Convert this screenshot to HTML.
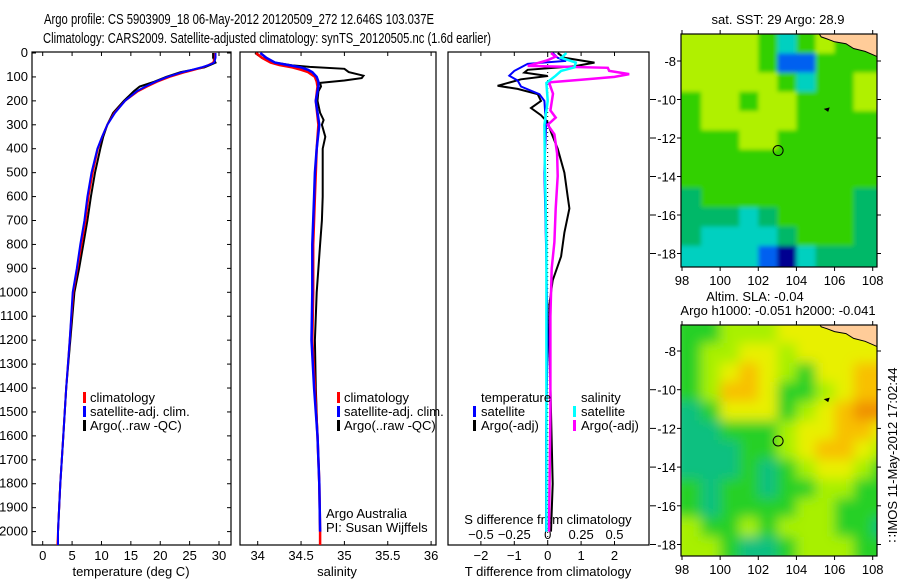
<!DOCTYPE html>
<html><head><meta charset="utf-8"><style>
body{margin:0;background:#fff}
svg{display:block;font-family:"Liberation Sans",sans-serif}
text{fill:#000}
</style></head><body>
<svg id="s" width="900" height="580" xmlns="http://www.w3.org/2000/svg">
<defs>
<clipPath id="c1"><rect x="32" y="52" width="199" height="493"/></clipPath>
<clipPath id="c2"><rect x="240" y="52" width="196" height="493"/></clipPath>
<clipPath id="c3"><rect x="448" y="52" width="201" height="493"/></clipPath>
<clipPath id="m1"><rect x="681" y="34" width="196" height="233"/></clipPath>
<clipPath id="m2"><rect x="681" y="325" width="196" height="231"/></clipPath>
<filter id="b1" x="-5%" y="-5%" width="110%" height="110%"><feGaussianBlur stdDeviation="2"/></filter>
<filter id="b2" x="-5%" y="-5%" width="110%" height="110%"><feGaussianBlur stdDeviation="6"/></filter>
</defs>
<text x="44" y="24" font-size="15" textLength="390" lengthAdjust="spacingAndGlyphs">Argo profile: CS 5903909_18 06-May-2012 20120509_272 12.646S 103.037E</text>
<text x="43" y="43" font-size="15" textLength="448" lengthAdjust="spacingAndGlyphs">Climatology: CARS2009. Satellite-adjusted climatology: synTS_20120505.nc (1.6d earlier)</text>
<g id="g"></g>
</svg>
<script>
// ---------- data ----------
const depthTemp = [0,20,40,50,60,70,80,100,120,140,160,200,250,300,350,400,500,600,700,800,900,1000,1200,1400,1600,1800,2000,2056];
const tempClim = [29.3,29.3,29.0,28.2,27.2,25.8,24.3,21.6,19.5,17.8,16.2,14.0,12.2,11.0,10.1,9.4,8.5,7.8,7.3,6.6,5.9,5.2,4.6,4.0,3.5,3.0,2.6,2.5];
const tempSat  = [29.4,29.4,29.2,28.3,27.0,25.4,23.8,21.2,19.2,17.5,16.0,14.0,12.3,11.0,10.1,9.3,8.3,7.6,7.1,6.4,5.8,5.1,4.6,4.0,3.5,3.0,2.6,2.6];
const depthArgoT = [0,20,40,50,60,70,80,100,120,140,160,200,250,300,350,400,500,600,700,800,900,1000,1200,1400,1600,1800,2000];
const tempArgo = [29.0,29.0,29.4,28.5,27.5,25.5,23.5,21.0,19.0,16.5,15.5,13.8,12.0,11.0,10.3,9.8,8.9,8.2,7.6,6.9,6.2,5.4,4.7,4.0,3.5,3.0,2.6];

const depthSal = [0,20,40,50,60,70,80,100,120,140,200,300,400,500,600,800,1000,1200,1400,1600,1800,2000,2056];
const salClim = [33.98,34.05,34.15,34.25,34.4,34.5,34.58,34.66,34.68,34.69,34.67,34.70,34.68,34.67,34.66,34.64,34.64,34.63,34.66,34.69,34.71,34.72,34.72];
const salSat  = [34.03,34.1,34.2,34.35,34.5,34.58,34.63,34.68,34.7,34.7,34.67,34.71,34.68,34.66,34.65,34.63,34.63,34.62,34.65,34.69,34.71,34.72,34.72];
const depthArgoS = [0,20,40,52,58,66,80,95,105,115,125,140,160,200,250,280,300,350,400,500,600,700,800,900,1000,1200,1400,1600,1800,2000];
const salArgo = [33.97,34.05,34.2,34.4,34.6,35.0,35.05,35.22,35.2,35.0,34.72,34.73,34.70,34.69,34.72,34.76,34.74,34.78,34.75,34.75,34.75,34.74,34.72,34.70,34.68,34.66,34.67,34.69,34.71,34.72];

const depthDiffTArgo = [0,20,40,55,70,82,96,110,137,150,172,200,230,260,290,330,400,500,600,650,750,850,950,1050,1200,1500,1800,2000];
const diffTArgo = [0.3,0.5,1.4,0.8,-0.6,-0.7,0.0,-0.8,-1.5,-0.9,-0.3,-0.2,-0.5,-0.2,0.0,0.1,0.3,0.5,0.6,0.65,0.5,0.4,0.15,0.05,0.05,0.1,0.15,0.1];
const depthDiffTSat = [0,20,33,45,60,75,95,115,140,172,200,300,500,800,1200,1600,2000];
const diffTSat = [0.15,0.3,0.55,-0.6,-0.8,-1.0,-1.15,-0.9,-0.8,-0.25,-0.1,-0.05,-0.1,-0.05,0.0,-0.05,-0.05];
const depthDiffSArgo = [0,15,30,54,62,75,88,100,112,123,170,240,270,300,340,420,514,650,790,900,1100,1500,2000];
const diffSArgo = [0.025,0.06,0.0,-0.15,0.45,0.46,0.61,0.5,0.25,0.01,0.04,0.02,0.06,0.0,0.05,0.07,0.075,0.06,0.05,0.03,0.02,0.02,0.01];
const depthDiffSSat = [0,20,40,60,75,95,125,200,300,500,800,1200,1600,2000];
const diffSSat = [0.14,0.1,0.21,0.2,0.1,0.06,-0.01,0.0,-0.025,-0.02,-0.01,-0.01,-0.01,-0.01];

const depthTicks = [0,100,200,300,400,500,600,700,800,900,1000,1100,1200,1300,1400,1500,1600,1700,1800,1900,2000];
const tempTicks = [0,5,10,15,20,25,30];
const salTicks = [34,34.5,35,35.5,36];
const salTickLabels = ["34","34.5","35","35.5","36"];
const tdiffTicks = [-2,-1,0,1,2];
const sdiffTicks = [-0.5,-0.25,0,0.25,0.5];
const sdiffTickLabels = ["\u22120.5","\u22120.25","0","0.25","0.5"];
const lonTicks = [98,100,102,104,106,108];
const latTicks = [-8,-10,-12,-14,-16,-18];

// map grids (1 degree cells, rows from lat -6.6 southward, cols from lon 98)
const sstRows = ["YYYYGCGYGGG","YYYYGBBGGGG","YYYYYGCGGYY","GYYGYYGGGYY","GYYYYYGGGGG","GGGYYGGGGGG","GGGGGGGGGGG","GGGGGGGGGGG","gGGGGGGGGgg","gggCgGGGGgg","gCCCCgGGGgg","CCCCBNCgggg"];
const sstColors = {Y:"#b0f000",G:"#30d000",g:"#00b868",C:"#00d0c0",B:"#0060f0",N:"#000090"};
const slaRows = ["GGLLLYYYYYY","GLLYYLYYYYY","GLYOYLGYYOO","GLOOYGGLYOO","TGYYYGLYODD","TTGGGLYYOOY","TTTGGLYOOYL","TTTGTGLYYLG","GTGGTGGLLGG","GTGGGGLLGGG","LGGLGLLLGGT","LLGTTGLLLGG"];
const slaColors = {G:"#28d028",T:"#10c080",L:"#a8f000",Y:"#e8f000",O:"#f8c000",D:"#f09000"};
const coastLon = [105.2,105.3,105.6,106.0,106.6,107.0,107.6,108.3];
const coastLat = [-6.6,-6.75,-6.85,-7.0,-7.1,-7.35,-7.5,-7.8];
const argoPos = [103.04,-12.65];
const markPos = [105.6,-10.5];

// ---------- scales ----------
const yD = d => 53 + d*0.2393;
const xT = t => 42.7 + t*5.877;
const xS = s => 257.7 + (s-34)*86.7;
const xDT = t => 547.7 + t*33.4;
const xDS = s => 547.7 + s*4*33.4;
const xLon = l => 682 + (l-98)*19.07;
const yLat1 = l => 61 + (-8-l)*19.25;
const yLat2 = l => 351 + (-8-l)*19.35;

const NS="http://www.w3.org/2000/svg";
const G=document.getElementById('g');
function mk(tag, attrs, parent){const e=document.createElementNS(NS,tag);for(const k in attrs)e.setAttribute(k,attrs[k]);(parent||G).appendChild(e);return e;}
function txt(x,y,s,size,anchor,parent){const e=mk('text',{x:x,y:y,'font-size':size||13,'text-anchor':anchor||'start'},parent);e.textContent=s;return e;}
function line(vals,depths,xf,color,w,clip,name){
  const pts=vals.map((v,i)=>xf(v).toFixed(1)+','+yD(depths[i]).toFixed(1)).join(' ');
  const e=mk('polyline',{points:pts,fill:'none',stroke:color,'stroke-width':w,'clip-path':'url(#'+clip+')','stroke-linejoin':'miter'});
  
  
  return e;
}
function panel(x0,w,name){
  const e=mk('rect',{x:x0,y:52,width:w,height:493,fill:'none',stroke:'#000','stroke-width':1.2});
  
  
}
function legMark(x,y,c){mk('rect',{x:x,y:y-10,width:3,height:11,fill:c});}

// ---------- panel 1: temperature ----------
panel(32,199,'temperature-panel');
depthTicks.forEach(d=>{
  const t=txt(28,yD(d)+4,String(d),13,'end');
  
  
  mk('line',{x1:32,x2:36,y1:yD(d),y2:yD(d),stroke:'#000'});
  mk('line',{x1:227,x2:231,y1:yD(d),y2:yD(d),stroke:'#000'});
});
tempTicks.forEach(t=>{
  const x=xT(t);
  mk('line',{x1:x,x2:x,y1:52,y2:56,stroke:'#000'});
  mk('line',{x1:x,x2:x,y1:541,y2:545,stroke:'#000'});
  const e=txt(x,560,String(t),13,'middle');
  
  
});
txt(131,576,'temperature (deg C)',13,'middle');
line(tempArgo,depthArgoT,xT,'#000',2,'c1','argo-temperature-line');
line(tempClim,depthTemp,xT,'#f00',2,'c1','climatology-temperature-line');
line(tempSat,depthTemp,xT,'#00f',2,'c1','satellite-temperature-line');
[['climatology','#f00'],['satellite-adj. clim.','#00f'],['Argo(..raw -QC)','#000']].forEach((l,i)=>{
  const y=402+i*14; legMark(83,y,l[1]);
  const e=txt(90,y,l[0],13);
  
  
});

// ---------- panel 2: salinity ----------
panel(240,196,'salinity-panel');
salTicks.forEach((s,i)=>{
  const x=xS(s);
  mk('line',{x1:x,x2:x,y1:52,y2:56,stroke:'#000'});
  mk('line',{x1:x,x2:x,y1:541,y2:545,stroke:'#000'});
  const e=txt(x,560,salTickLabels[i],13,'middle');
  
  
});
txt(337,576,'salinity',13,'middle');
line(salArgo,depthArgoS,xS,'#000',2,'c2','argo-salinity-line');
line(salClim,depthSal,xS,'#f00',2.5,'c2','climatology-salinity-line');
line(salSat,depthSal.slice(0,22),xS,'#00f',2.5,'c2','satellite-salinity-line');
[['climatology','#f00'],['satellite-adj. clim.','#00f'],['Argo(..raw -QC)','#000']].forEach((l,i)=>{
  const y=402+i*14; legMark(337,y,l[1]);
  const e=txt(344,y,l[0],13);
  
  
});
txt(326,518,'Argo Australia',13);
txt(326,532,'PI: Susan Wijffels',13);

// ---------- panel 3: differences ----------
panel(448,201,'difference-panel');
mk('line',{x1:xDT(0),x2:xDT(0),y1:52,y2:545,stroke:'#000','stroke-dasharray':'1,3'});
tdiffTicks.forEach(t=>{
  const x=xDT(t);
  mk('line',{x1:x,x2:x,y1:541,y2:545,stroke:'#000'});
  const e=txt(x,560,t<0?'\u2212'+(-t):String(t),13,'middle');
  
  
});
sdiffTicks.forEach((s,i)=>{
  const x=xDS(s);
  mk('line',{x1:x,x2:x,y1:52,y2:56,stroke:'#000'});
  const e=txt(x,539,sdiffTickLabels[i],13,'middle');
  
  
});
txt(548,524,'S difference from climatology',13,'middle');
txt(548,576,'T difference from climatology',13,'middle');
line(diffTArgo,depthDiffTArgo,xDT,'#000',2,'c3','argo-tdiff-line');
line(diffTSat,depthDiffTSat,xDT,'#00f',2,'c3','satellite-tdiff-line');
line(diffSArgo,depthDiffSArgo,xDS,'#f0f',2.5,'c3','argo-sdiff-line');
line(diffSSat,depthDiffSSat,xDS,'#0ff',2.5,'c3','satellite-sdiff-line');
txt(481,402,'temperature',13);
txt(581,402,'salinity',13);
[['satellite','#00f',473],['Argo(-adj)','#000',473],].forEach((l,i)=>{const y=416+i*14;legMark(l[2],y,l[1]);const e=txt(481,y,l[0],13);});
[['satellite','#0ff'],['Argo(-adj)','#f0f']].forEach((l,i)=>{const y=416+i*14;legMark(573,y,l[1]);const e=txt(581,y,l[0],13);});
latTicks.slice(1).forEach(l=>{
  mk('line',{x1:650,x2:656,y1:yLat1(l),y2:yLat1(l),stroke:'#000'});
  mk('line',{x1:650,x2:656,y1:yLat2(l),y2:yLat2(l),stroke:'#000'});
});

// ---------- maps ----------
function drawMap(rows,colors,yLat,clip,filt,top,bot,name){
  const g=mk('g',{'clip-path':'url(#'+clip+')'});
  
  
  const inner=mk('g',{filter:'url(#'+filt+')'},g);
  rows.forEach((row,r)=>{
    for(let c=0;c<row.length;c++){
      const lat0=-6.6-r, lat1=-7.6-r;
      let y0=yLat(lat0), y1=yLat(lat1);
      if(r===0) y0-=10; if(r===rows.length-1) y1+=10;
      let x0=xLon(98+c), x1=xLon(99+c);
      if(c===0) x0-=10; if(c===row.length-1) x1+=10;
      const cell=mk('rect',{x:x0,y:y0,width:x1-x0+0.5,height:y1-y0+0.5,fill:colors[row[c]]},inner);
      
      
    }
  });
  let pts=coastLon.map((l,i)=>xLon(l).toFixed(1)+','+yLat(coastLat[i]).toFixed(1));
  pts.push(xLon(108.3)+','+(top-5)); pts.push(xLon(105.2)+','+(top-5));
  const land=mk('polygon',{points:pts.join(' '),fill:'#ffcc99',stroke:'#000','stroke-width':1},g);
  
  
  const circ=mk('circle',{cx:xLon(argoPos[0]),cy:yLat(argoPos[1]),r:5,fill:'none',stroke:'#000','stroke-width':1},g);
  
  
  mk('path',{d:'M'+(xLon(markPos[0])-2)+' '+yLat(markPos[1])+' l4 -1 l-1 3 z',fill:'#000',stroke:'#000'},g);
  mk('rect',{x:681,y:top,width:196,height:bot-top,fill:'none',stroke:'#000','stroke-width':1.2});
  lonTicks.forEach(l=>{
    const x=xLon(l);
    mk('line',{x1:x,x2:x,y1:top-4,y2:top,stroke:'#000'});
    mk('line',{x1:x,x2:x,y1:bot,y2:bot+4,stroke:'#000'});
    const e=txt(x,bot+18,String(l),13,'middle');
    
    
  });
  latTicks.forEach(l=>{
    const y=yLat(l);
    mk('line',{x1:677,x2:681,y1:y,y2:y,stroke:'#000'});
    mk('line',{x1:877,x2:881,y1:y,y2:y,stroke:'#000'});
    const e=txt(676,y+5,'-'+(-l),13,'end');
    
    
  });
}
drawMap(sstRows,sstColors,yLat1,'m1','b1',34,267,'sst-map');
drawMap(slaRows,slaColors,yLat2,'m2','b2',325,556,'sla-map');
txt(778,24,'sat. SST: 29 Argo: 28.9',13,'middle');
txt(755,301,'Altim. SLA: -0.04',13,'middle');
txt(778,315,'Argo h1000: -0.051 h2000: -0.041',13,'middle');
const ts=txt(0,0,'\u2237IMOS 11-May-2012 17:02:44',13,'middle');
ts.setAttribute('transform','translate(897,455) rotate(-90)');


</script>
</body></html>
